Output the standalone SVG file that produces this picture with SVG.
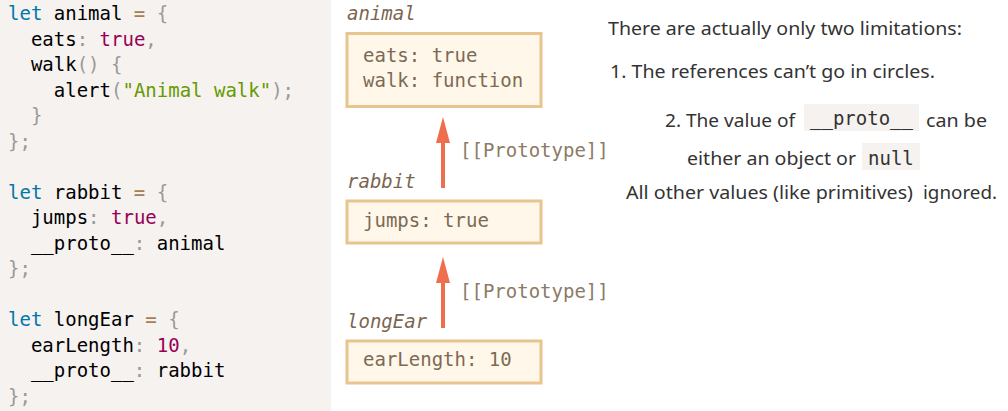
<svg xmlns="http://www.w3.org/2000/svg" width="1008" height="411" viewBox="0 0 1008 411">
<style>
.code{font-family:"DejaVu Sans Mono","Liberation Mono",monospace;font-size:19px;fill:#000;white-space:pre}
.kw{fill:#0077aa}.pn{fill:#999999}.op{fill:#a67f59}.nm{fill:#990055}.st{fill:#669900}
.lbl{font-family:"DejaVu Sans Mono","Liberation Mono",monospace;font-size:19px;font-style:italic;fill:#7a6650}
.box{fill:#fff8ea;stroke:#e8c48f;stroke-width:3}
.bt{font-family:"DejaVu Sans Mono","Liberation Mono",monospace;font-size:19px;fill:#7d6a55}
.pt{font-family:"DejaVu Sans Mono","Liberation Mono",monospace;font-size:19px;fill:#8c7b66}
.arr{stroke:#ef6e4e;stroke-width:4;fill:none}
.txt{font-family:"Noto Sans","Open Sans","Liberation Sans",sans-serif;font-size:18.5px;fill:#333}
.ic{font-family:"DejaVu Sans Mono","Liberation Mono",monospace;font-size:19px;fill:#333}
.icb{fill:#f5f2f0}
</style>
<defs>
<marker id="ah" viewBox="0 0 26 14" refX="0" refY="7" markerWidth="26" markerHeight="14" markerUnits="userSpaceOnUse" orient="auto">
<path d="M0,0 L26,7 L0,14 Z" fill="#ef6e4e"/>
</marker>
</defs>
<rect x="0" y="0" width="331" height="411" fill="#f5f2f0"/>
<g id="code" class="code">
<text x="8" y="20"><tspan class="kw">let</tspan> animal <tspan class="op">=</tspan> <tspan class="pn">{</tspan></text>
<text x="30.9" y="45.5">eats<tspan class="pn">:</tspan> <tspan class="nm">true</tspan><tspan class="pn">,</tspan></text>
<text x="30.9" y="71">walk<tspan class="pn">()</tspan> <tspan class="pn">{</tspan></text>
<text x="53.8" y="96.5">alert<tspan class="pn">(</tspan><tspan class="st">"Animal walk"</tspan><tspan class="pn">);</tspan></text>
<text x="30.9" y="122" class="pn">}</text>
<text x="8" y="147.5" class="pn">};</text>
<text x="8" y="198.5"><tspan class="kw">let</tspan> rabbit <tspan class="op">=</tspan> <tspan class="pn">{</tspan></text>
<text x="30.9" y="224">jumps<tspan class="pn">:</tspan> <tspan class="nm">true</tspan><tspan class="pn">,</tspan></text>
<text x="30.9" y="249.5">__proto__<tspan class="pn">:</tspan> animal</text>
<text x="8" y="275" class="pn">};</text>
<text x="8" y="326"><tspan class="kw">let</tspan> longEar <tspan class="op">=</tspan> <tspan class="pn">{</tspan></text>
<text x="30.9" y="351.5">earLength<tspan class="pn">:</tspan> <tspan class="nm">10</tspan><tspan class="pn">,</tspan></text>
<text x="30.9" y="377">__proto__<tspan class="pn">:</tspan> rabbit</text>
<text x="8" y="402.5" class="pn">};</text>
</g>
<g id="connectors">
<line class="arr" x1="443" y1="188" x2="443" y2="143" marker-end="url(#ah)"/>
<line class="arr" x1="443" y1="328" x2="443" y2="283" marker-end="url(#ah)"/>
<text class="pt" x="460" y="157">[[Prototype]]</text>
<text class="pt" x="460" y="298">[[Prototype]]</text>
</g>
<g id="animal">
<text class="lbl" x="347" y="20">animal</text>
<rect class="box" x="347" y="33.5" width="194" height="73"/>
<text class="bt" x="363" y="62">eats: true</text>
<text class="bt" x="363" y="87">walk: function</text>
</g>
<g id="rabbit">
<text class="lbl" x="347" y="188">rabbit</text>
<rect class="box" x="347" y="201" width="194" height="42"/>
<text class="bt" x="363" y="227">jumps: true</text>
</g>
<g id="longEar">
<text class="lbl" x="347" y="328">longEar</text>
<rect class="box" x="347" y="341" width="194" height="42"/>
<text class="bt" x="363" y="366">earLength: 10</text>
</g>
<g id="notes">
<text class="txt" x="608" y="35" textLength="354" lengthAdjust="spacingAndGlyphs">There are actually only two limitations:</text>
<text class="txt" x="610" y="78" textLength="325" lengthAdjust="spacingAndGlyphs">1. The references can’t go in circles.</text>
<text class="txt" x="665" y="127" textLength="130" lengthAdjust="spacingAndGlyphs">2. The value of</text>
<rect class="icb" x="804" y="104" width="115" height="27"/>
<text class="ic" x="810" y="125">__proto__</text>
<text class="txt" x="926" y="127" textLength="61" lengthAdjust="spacingAndGlyphs">can be</text>
<text class="txt" x="687" y="165" textLength="169" lengthAdjust="spacingAndGlyphs">either an object or</text>
<rect class="icb" x="862" y="143" width="58" height="27"/>
<text class="ic" x="868" y="165">null</text>
<text class="txt" x="626" y="199" textLength="287" lengthAdjust="spacingAndGlyphs">All other values (like primitives)</text>
<text class="txt" x="923" y="199" textLength="74" lengthAdjust="spacingAndGlyphs">ignored.</text>
</g>
</svg>
